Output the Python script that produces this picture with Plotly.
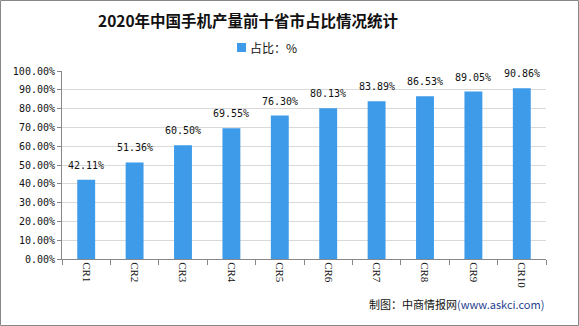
import plotly.graph_objects as go

categories = ["CR1", "CR2", "CR3", "CR4", "CR5", "CR6", "CR7", "CR8", "CR9", "CR10"]
shares = [42.11, 51.36, 60.50, 69.55, 76.30, 80.13, 83.89, 86.53, 89.05, 90.86]
y_ticks = [0, 10, 20, 30, 40, 50, 60, 70, 80, 90, 100]
y_tick_labels = [f"{v:.2f}%" for v in y_ticks]
series_name = "占比：%"

W, H = 579, 326
L, R, T, B = 62, 33, 71, 67
pw, ph = W - L - R, H - T - B
bar_color = "#3d9be9"

mono = "DejaVu Sans Mono, Liberation Mono, monospace"
cjk = "Noto Sans CJK SC, sans-serif"


def px_x(px):
    return (px - L) / pw


def px_y(py):
    return (H - B - py) / ph


fig = go.Figure()
fig.add_trace(go.Bar(
    x=categories, y=shares, name=series_name,
    marker=dict(color=bar_color, line=dict(width=0)),
    width=0.37, showlegend=False,
))

# value labels sitting a little above each bar
value_labels = [
    dict(x=c, y=v, xref="x", yref="y", text=f"{v:.2f}%",
         xanchor="center", yanchor="bottom", yshift=7, showarrow=False,
         font=dict(family=mono, size=10, color="#111"))
    for c, v in zip(categories, shares)
]

fig.update_layout(
    width=W, height=H,
    margin=dict(l=L, r=R, t=T, b=B),
    paper_bgcolor="white", plot_bgcolor="white",
    xaxis=dict(
        showline=True, linecolor="#888", linewidth=1,
        ticks="outside", tickson="boundaries", ticklen=5, tickcolor="#888",
        tickangle=90, tickfont=dict(family="Liberation Serif, DejaVu Serif, serif", size=11, color="#111"),
        showgrid=False,
    ),
    yaxis=dict(
        range=[0, 100], tickvals=y_ticks, ticktext=y_tick_labels,
        showline=True, linecolor="#888", linewidth=1,
        ticks="outside", ticklen=4, tickcolor="#888",
        tickfont=dict(family=mono, size=10, color="#111"),
        showgrid=True, gridcolor="#d9d9d9", gridwidth=1,
        zeroline=False,
    ),
    annotations=value_labels + [
        dict(text="<b>2020年中国手机产量前十省市占比情况统计</b>",
             xref="paper", yref="paper",
             x=px_x(248), y=px_y(20), xanchor="center", yanchor="middle",
             showarrow=False, font=dict(family=cjk, size=15.5, color="#111")),
        dict(text=series_name,
             xref="paper", yref="paper",
             x=px_x(248), y=px_y(47), xanchor="left", yanchor="middle",
             showarrow=False, font=dict(family=cjk, size=12, color="#111")),
        dict(text="制图：中商情报网<span style='color:#1f3f8f'>(www.askci.com)</span>",
             xref="paper", yref="paper",
             x=px_x(546), y=px_y(304), xanchor="right", yanchor="middle",
             showarrow=False, font=dict(family=cjk, size=11, color="#111")),
    ],
    shapes=[
        # legend swatch
        dict(type="rect", xref="paper", yref="paper",
             x0=px_x(237), x1=px_x(246), y0=px_y(52), y1=px_y(43),
             fillcolor=bar_color, line=dict(width=0)),
        # outer frame
        dict(type="rect", xref="paper", yref="paper",
             x0=px_x(0.5), x1=px_x(W - 0.5),
             y0=px_y(H - 0.5), y1=px_y(0.5),
             line=dict(color="#888", width=1), layer="below"),
    ],
)

fig.write_html("out.html")
